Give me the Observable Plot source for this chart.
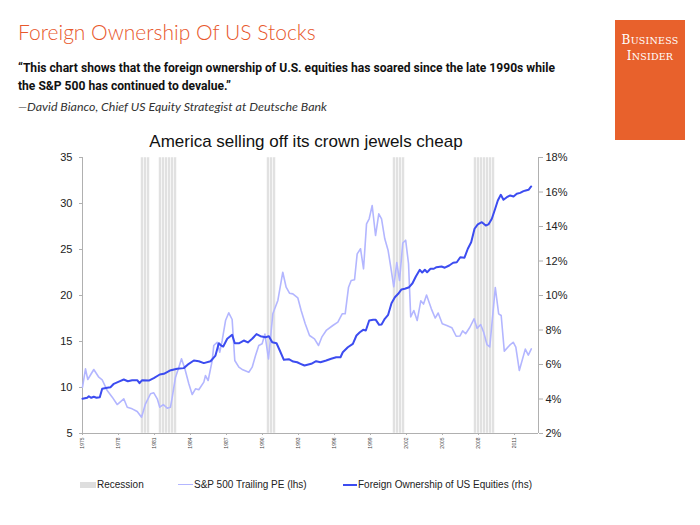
<!DOCTYPE html>
<html>
<head>
<meta charset="utf-8">
<script src="https://cdn.jsdelivr.net/npm/d3@7"></script>
<script src="https://cdn.jsdelivr.net/npm/@observablehq/plot@0.6"></script>
<style>
  html, body { margin: 0; padding: 0; background: #fff; }
  #page { position: relative; width: 700px; height: 525px; overflow: hidden; font-family: "Liberation Sans", Arial, sans-serif; }
  .abs { position: absolute; white-space: nowrap; }
  #title { left: 18px; top: 19px; font-family: "Lato", sans-serif; font-weight: 300; font-size: 21px; color: #e8582c; }
  #quote { left: 18px; top: 59px; font-family: "Roboto", sans-serif; font-weight: 700; font-size: 12.1px; line-height: 18px; color: #111; }
  #attr { left: 18px; top: 99px; font-family: "Lato", sans-serif; font-style: italic; font-size: 12.4px; color: #333; }
  #logo { left: 615px; top: 20px; width: 70px; height: 120px; background: #e8612c; }
  #logo div { position: absolute; width: 70px; text-align: center; color: #fff; font-family: "DejaVu Serif", serif; font-size: 12px; letter-spacing: 0.2px; }
  #logo span { font-size: 9.5px; }
  #ctitle { left: 0; width: 612px; text-align: center; top: 132px; font-size: 17px; color: #111; }
  #chart { left: 0; top: 130px; }
  .leg { font-size: 10px; color: #222; top: 479px; }
  .sw { position: absolute; }
</style>
</head>
<body>
<div id="page">
  <div class="abs" id="title">Foreign Ownership Of US Stocks</div>
  <div class="abs" id="quote">“This chart shows that the foreign ownership of U.S. equities has soared since the late 1990s while<br>the S&amp;P 500 has continued to devalue.”</div>
  <div class="abs" id="attr">—David Bianco, Chief US Equity Strategist at Deutsche Bank</div>
  <div class="abs" id="logo"><div style="top:13px">B<span>USINESS</span></div><div style="top:29px">I<span>NSIDER</span></div></div>
  <div class="abs" id="chart"></div>
  <div class="abs" id="ctitle">America selling off its crown jewels cheap</div>
  <div class="sw" style="left:80px;top:482px;width:16px;height:6px;background:#dedede"></div>
  <div class="abs leg" style="left:97px">Recession</div>
  <div class="sw" style="left:178px;top:484px;width:15px;height:1px;background:#b3b6ff"></div>
  <div class="abs leg" style="left:194px">S&amp;P 500 Trailing PE (lhs)</div>
  <div class="sw" style="left:343px;top:484px;width:14px;height:2px;background:#3c4cf0"></div>
  <div class="abs leg" style="left:358px">Foreign Ownership of US Equities (rhs)</div>
</div>
<script>
// S&P 500 trailing PE (lhs)
const peYears = [1975.0,1975.25,1975.44,1975.94,1976.36,1976.64,1977.06,1977.48,1977.89,1978.44,1978.73,1979.14,1979.56,1979.92,1980.25,1980.67,1980.94,1981.23,1981.44,1981.73,1982.06,1982.33,1982.48,1982.75,1983.03,1983.25,1983.53,1983.86,1984.14,1984.42,1984.69,1985.11,1985.25,1985.47,1985.81,1985.94,1986.22,1986.44,1986.64,1986.92,1987.19,1987.47,1987.69,1988.03,1988.36,1988.86,1989.14,1989.42,1989.69,1989.97,1990.2,1990.5,1990.86,1991.28,1991.69,1991.97,1992.25,1992.53,1992.94,1993.22,1993.56,1993.92,1994.33,1994.67,1994.94,1995.31,1995.86,1996.28,1996.64,1996.89,1997.17,1997.39,1997.67,1997.89,1998.17,1998.42,1998.67,1998.89,1999.14,1999.42,1999.69,1999.92,2000.19,2000.47,2000.69,2000.94,2001.19,2001.42,2001.69,2001.93,2002.17,2002.35,2002.61,2002.89,2003.19,2003.42,2003.67,2004.07,2004.39,2004.64,2004.98,2005.36,2005.78,2006.14,2006.46,2006.68,2006.93,2007.28,2007.63,2007.88,2008.18,2008.43,2008.71,2008.94,2009.4,2009.68,2009.89,2010.15,2010.58,2010.89,2011.11,2011.4,2011.9,2012.15,2012.4];
const peValues = [10.03,12.03,10.87,11.96,11.12,10.84,9.67,8.95,8.15,8.77,7.86,7.68,7.39,6.77,8.23,9.32,9.42,8.77,7.86,8.15,7.75,7.86,8.95,11.12,12.21,13.12,12.03,10.40,9.24,9.86,9.75,10.58,11.30,10.76,12.93,14.57,14.92,13.84,15.11,17.28,18.12,17.39,12.93,12.21,11.92,11.66,12.21,13.48,14.57,14.75,15.8,13.1,18.01,19.46,22.53,20.90,20.25,20.18,19.75,18.37,16.92,15.65,15.29,14.57,15.47,16.20,16.74,17.10,18.01,18.01,20.90,21.63,21.71,24.53,25.08,22.90,27.79,28.34,29.78,26.52,28.88,28.34,26.16,24.89,23.08,20.95,23.57,21.63,25.71,26.01,23.45,17.68,18.37,17.28,19.42,19.07,20.05,18.55,17.55,18.10,16.92,16.74,16.50,15.57,15.60,16.15,15.84,16.55,17.47,16.43,16.85,16.01,14.65,14.41,20.87,18.01,17.83,13.95,14.57,14.92,14.38,11.85,14.17,13.52,14.20];

// Foreign ownership of US equities, % (rhs)
const foYears = [1975.0,1975.39,1975.53,1975.73,1975.94,1976.17,1976.44,1976.64,1977.06,1977.33,1977.61,1978.03,1978.44,1978.78,1979.14,1979.56,1979.75,1979.97,1980.53,1980.94,1981.44,1981.78,1982.28,1982.89,1983.44,1983.86,1984.28,1984.69,1985.11,1985.67,1986.08,1986.36,1986.56,1986.73,1987.06,1987.47,1987.69,1988.03,1988.44,1988.78,1989.14,1989.5,1989.83,1990.25,1990.53,1990.81,1991.17,1991.44,1991.78,1992.19,1992.56,1992.89,1993.17,1993.5,1994.06,1994.47,1994.83,1995.31,1995.72,1996.14,1996.5,1996.69,1997.11,1997.53,1997.83,1998.11,1998.39,1998.61,1998.89,1999.22,1999.44,1999.72,1999.92,2000.19,2000.47,2000.75,2001.03,2001.31,2001.58,2001.86,2002.22,2002.5,2002.78,2003.11,2003.31,2003.53,2003.72,2004.0,2004.28,2004.5,2004.92,2005.19,2005.56,2005.89,2006.19,2006.48,2006.83,2007.11,2007.39,2007.67,2007.94,2008.28,2008.61,2008.83,2009.11,2009.39,2009.61,2009.86,2010.08,2010.36,2010.64,2010.92,2011.19,2011.47,2011.75,2011.94,2012.17,2012.39];
const foValues = [4.01,4.07,4.16,4.07,4.13,4.07,4.10,4.59,4.65,4.68,4.88,5.01,5.13,5.03,5.09,5.09,4.92,5.09,5.07,5.21,5.42,5.46,5.65,5.75,5.79,6.04,6.23,6.19,6.08,6.19,6.52,7.23,7.10,7.04,7.49,7.72,7.23,7.23,7.39,7.28,7.49,7.76,7.64,7.58,7.64,7.29,7.23,6.81,6.27,6.31,6.17,6.13,6.04,5.94,6.04,6.19,6.13,6.23,6.33,6.42,6.42,6.71,7.00,7.20,7.68,7.87,8.01,7.97,8.55,8.59,8.59,8.30,8.32,8.65,8.88,9.55,9.90,10.10,10.35,10.39,10.48,10.71,11.10,11.49,11.33,11.49,11.35,11.55,11.55,11.64,11.68,11.61,11.74,11.90,11.93,12.22,12.19,12.71,13.09,13.87,14.12,14.25,14.06,14.12,14.45,15.03,15.51,15.84,15.55,15.70,15.80,15.74,15.90,15.95,16.05,16.09,16.13,16.32];

// Recession quarters
const recessionQuarters = [1980.0,1980.25,1980.5, 1981.5,1981.75,1982.0,1982.25,1982.5,1982.75, 1990.5,1990.75,1991.0, 2001.0,2001.25,2001.5,2001.75, 2007.75,2008.0,2008.25,2008.5,2008.75,2009.0,2009.25];

const xTicks = [1975,1978,1981,1984,1987,1990,1993,1996,1999,2002,2005,2008,2011];
const peTicks = [5,10,15,20,25,30,35];
const foTicks = [2,4,6,8,10,12,14,16,18];

const peDomain = [5, 35];
const foDomain = [2, 18];
const toLeft = v => peDomain[0] + (v - foDomain[0]) * (peDomain[1] - peDomain[0]) / (foDomain[1] - foDomain[0]);
const fromLeft = v => foDomain[0] + (v - peDomain[0]) * (foDomain[1] - foDomain[0]) / (peDomain[1] - peDomain[0]);

const pe = peYears.map((t, i) => ({t, v: peValues[i]}));
const fo = foYears.map((t, i) => ({t, v: foValues[i]}));

const chart = Plot.plot({
  width: 700,
  height: 330,
  marginTop: 27,
  marginBottom: 27,
  marginLeft: 82,
  marginRight: 162,
  style: {fontFamily: "'Liberation Sans', Arial, sans-serif", background: "transparent", color: "#222"},
  x: {domain: [1975, 2013]},
  y: {domain: peDomain},
  marks: [
    Plot.rect(recessionQuarters, {x1: d => d - 0.125, x2: d => d + 0.125, y1: 5, y2: 35, fill: "#e1e1e1", stroke: "#fff", strokeWidth: 0.5}),
    Plot.ruleY([5], {stroke: "#b0b0b0"}),
    Plot.ruleX([1975], {stroke: "#b0b0b0"}),
    Plot.ruleX([2013], {stroke: "#b0b0b0"}),
    Plot.axisY({anchor: "left", ticks: peTicks, tickSize: 3, tickPadding: 7, stroke: "#b0b0b0", fill: "#222", fontSize: 11, label: null}),
    Plot.axisY({anchor: "right", ticks: foTicks.map(toLeft), tickFormat: d => Math.round(fromLeft(d)) + "%", tickSize: 4, tickPadding: 3, stroke: "#b0b0b0", fill: "#222", fontSize: 11, label: null}),
    Plot.axisX({ticks: xTicks, tickFormat: d => String(d), tickRotate: -90, tickSize: 2, tickPadding: 2, stroke: "#b0b0b0", fill: "#444", fontSize: 5, label: null}),
    Plot.line(pe, {x: "t", y: "v", stroke: "#b3b6ff", strokeWidth: 1.6}),
    Plot.line(fo, {x: "t", y: d => toLeft(d.v), stroke: "#3c4cf0", strokeWidth: 2})
  ]
});
document.getElementById("chart").appendChild(chart);
</script>
</body>
</html>
